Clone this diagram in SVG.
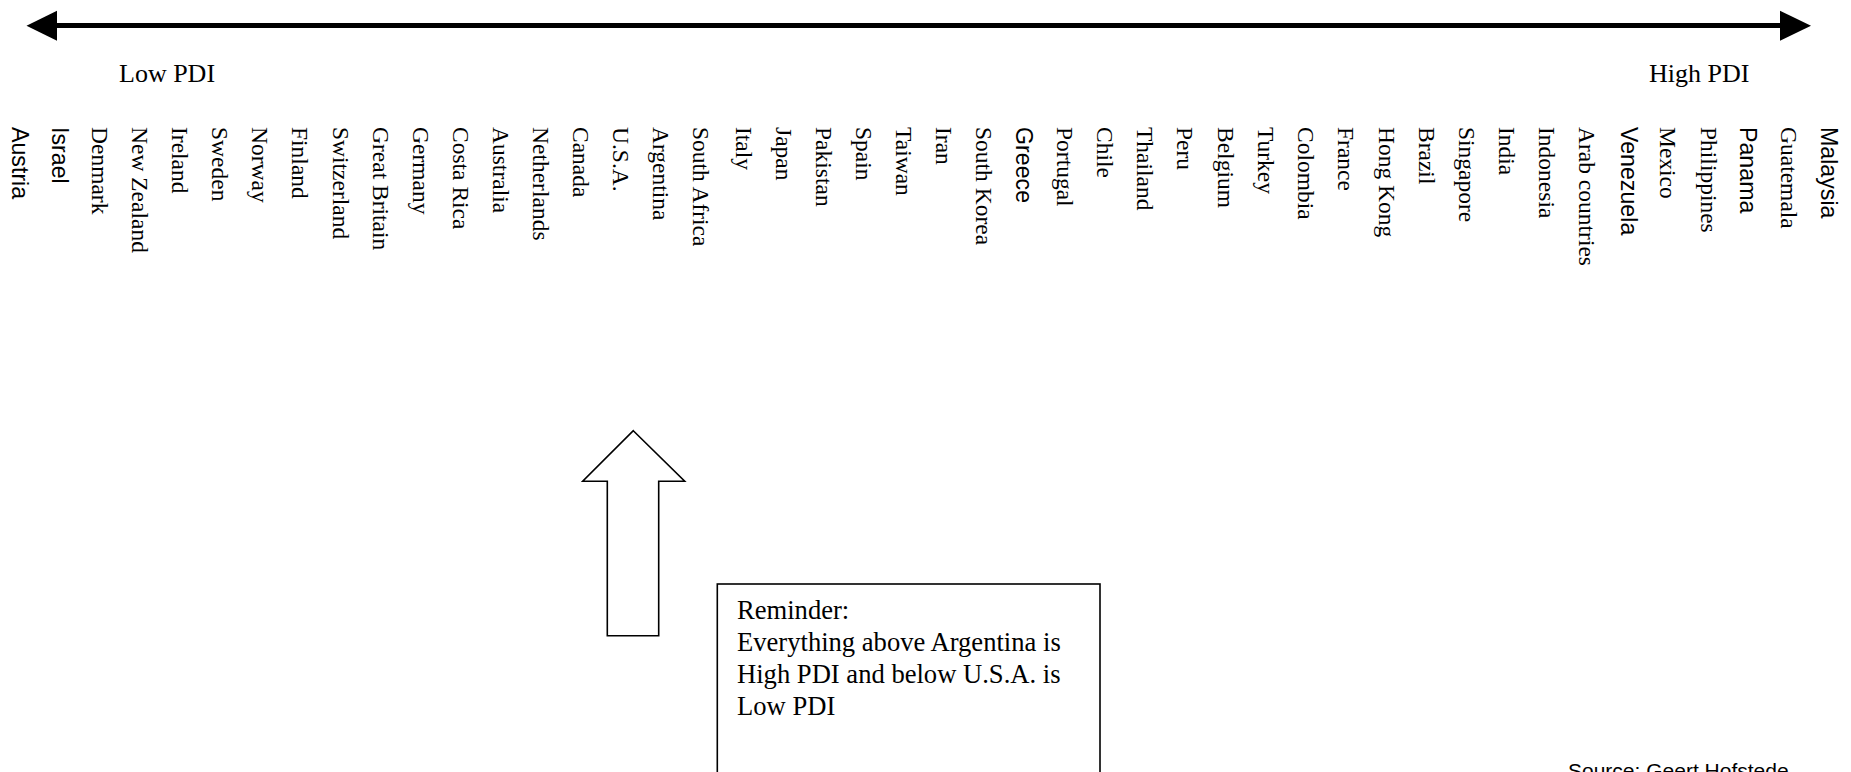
<svg xmlns="http://www.w3.org/2000/svg" width="1851" height="772" viewBox="0 0 1851 772">
<style>
.t{font-family:"Liberation Serif","Times New Roman",serif;font-size:23.5px;fill:#000}
.a{font-family:"Liberation Sans",Arial,sans-serif;font-size:23.2px;fill:#000}
.lbl{font-family:"Liberation Serif","Times New Roman",serif;font-size:26px;fill:#000}
.rem{font-family:"Liberation Serif","Times New Roman",serif;font-size:26.6px;fill:#000}
.src{font-family:"Liberation Sans",Arial,sans-serif;font-size:21px;fill:#000}
.shape{fill:#fff;stroke:#000;stroke-width:1.6}
</style>
<rect width="1851" height="772" fill="#fff"/>
<g id="connectors">
<line x1="55" y1="25.5" x2="1782" y2="25.5" stroke="#000" stroke-width="5"/>
<polygon points="26.5,25.7 57,10.7 57,40.7" fill="#000"/>
<polygon points="1811,25.7 1780,10.7 1780,40.7" fill="#000"/>
</g>
<g id="scale-labels">
<text class="lbl" x="119" y="82">Low PDI</text>
<text class="lbl" x="1649" y="82">High PDI</text>
</g>
<g id="countries">
<text class="a" transform="translate(11.7,127) rotate(90)">Austria</text>
<text class="a" transform="translate(51.7,127) rotate(90)">Israel</text>
<text class="t" transform="translate(91.7,127) rotate(90)">Denmark</text>
<text class="t" transform="translate(131.7,127) rotate(90)">New Zealand</text>
<text class="t" transform="translate(171.7,127) rotate(90)">Ireland</text>
<text class="t" transform="translate(212,127) rotate(90)">Sweden</text>
<text class="t" transform="translate(252.3,127) rotate(90)">Norway</text>
<text class="t" transform="translate(292.3,127) rotate(90)">Finland</text>
<text class="t" transform="translate(332.7,127) rotate(90)">Switzerland</text>
<text class="t" transform="translate(372.7,127) rotate(90)">Great Britain</text>
<text class="t" transform="translate(412.7,127) rotate(90)">Germany</text>
<text class="t" transform="translate(452.7,127) rotate(90)">Costa Rica</text>
<text class="t" transform="translate(492.7,127) rotate(90)">Australia</text>
<text class="t" transform="translate(532.7,127) rotate(90)">Netherlands</text>
<text class="t" transform="translate(572.7,127) rotate(90)">Canada</text>
<text class="t" transform="translate(613.3,127) rotate(90)">U.S.A.</text>
<text class="t" transform="translate(652.7,127) rotate(90)">Argentina</text>
<text class="t" transform="translate(692.7,127) rotate(90)">South Africa</text>
<text class="t" transform="translate(735.7,127) rotate(90)">Italy</text>
<text class="t" transform="translate(776,127) rotate(90)">Japan</text>
<text class="t" transform="translate(816,127) rotate(90)">Pakistan</text>
<text class="t" transform="translate(856,127) rotate(90)">Spain</text>
<text class="t" transform="translate(896,127) rotate(90)">Taiwan</text>
<text class="t" transform="translate(936,127) rotate(90)">Iran</text>
<text class="t" transform="translate(976,127) rotate(90)">South Korea</text>
<text class="a" transform="translate(1016,127) rotate(90)">Greece</text>
<text class="t" transform="translate(1056.7,127) rotate(90)">Portugal</text>
<text class="t" transform="translate(1096.7,127) rotate(90)">Chile</text>
<text class="t" transform="translate(1136.7,127) rotate(90)">Thailand</text>
<text class="t" transform="translate(1177.3,127) rotate(90)">Peru</text>
<text class="t" transform="translate(1218,127) rotate(90)">Belgium</text>
<text class="t" transform="translate(1258.3,127) rotate(90)">Turkey</text>
<text class="t" transform="translate(1298.3,127) rotate(90)">Colombia</text>
<text class="t" transform="translate(1338.3,127) rotate(90)">France</text>
<text class="t" transform="translate(1379,127) rotate(90)">Hong Kong</text>
<text class="t" transform="translate(1419,127) rotate(90)">Brazil</text>
<text class="t" transform="translate(1459,127) rotate(90)">Singapore</text>
<text class="t" transform="translate(1499,127) rotate(90)">India</text>
<text class="t" transform="translate(1539,127) rotate(90)">Indonesia</text>
<text class="t" transform="translate(1579,127) rotate(90)">Arab countries</text>
<text class="a" transform="translate(1620.5,127) rotate(90)">Venezuela</text>
<text class="t" transform="translate(1660,127) rotate(90)">Mexico</text>
<text class="t" transform="translate(1700.7,127) rotate(90)">Philippines</text>
<text class="a" transform="translate(1740,127) rotate(90)">Panama</text>
<text class="t" transform="translate(1781,127) rotate(90)">Guatemala</text>
<text class="a" transform="translate(1821,127) rotate(90)">Malaysia</text>
</g>
<g id="block-arrow">
<polygon class="shape" points="633.3,430.7 684.7,481.3 658.7,481.3 658.7,635.7 607.3,635.7 607.3,481.3 582.7,481.3"/>
</g>
<g id="reminder">
<rect class="shape" x="717.3" y="584" width="382.7" height="220"/>
<text class="rem" x="737" y="619">Reminder:</text>
<text class="rem" x="737" y="651">Everything above Argentina is</text>
<text class="rem" x="737" y="683">High PDI and below U.S.A. is</text>
<text class="rem" x="737" y="715">Low PDI</text>
</g>
<g id="source">
<text class="src" x="1568" y="778">Source: Geert Hofstede</text>
</g>
</svg>
